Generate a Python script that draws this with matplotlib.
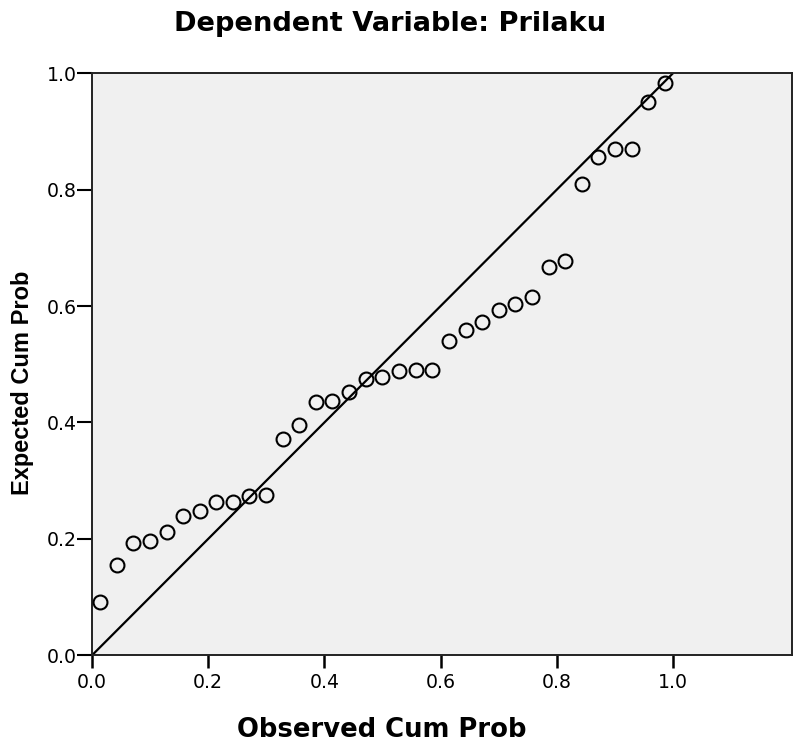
import matplotlib
matplotlib.use("Agg")
from matplotlib import pyplot as plt

plt.rcParams['font.family'] = ['DejaVu Sans']

# observed vs expected cumulative probability (P-P plot of residuals)
observed = [0.014, 0.043, 0.071, 0.100, 0.129, 0.157, 0.186, 0.214, 0.243,
            0.271, 0.300, 0.329, 0.357, 0.386, 0.414, 0.443, 0.471, 0.500,
            0.529, 0.557, 0.586, 0.614, 0.643, 0.671, 0.700, 0.729, 0.757,
            0.786, 0.814, 0.843, 0.871, 0.900, 0.929, 0.957, 0.986]
expected = [0.092, 0.156, 0.193, 0.196, 0.211, 0.240, 0.248, 0.263, 0.263,
            0.274, 0.275, 0.372, 0.396, 0.436, 0.437, 0.452, 0.475, 0.478,
            0.488, 0.490, 0.491, 0.540, 0.559, 0.573, 0.594, 0.603, 0.615,
            0.667, 0.677, 0.809, 0.856, 0.870, 0.870, 0.951, 0.983]
ticks = [0.0, 0.2, 0.4, 0.6, 0.8, 1.0]
title = "Dependent Variable: Prilaku"

fig = plt.figure(figsize=(7.95, 7.46), dpi=100)
ax = fig.add_axes([92 / 795, 1 - 655.3 / 746, 700 / 795, 582 / 746])
ax.set_facecolor("#f0f0f0")

ax.plot([0, 1], [0, 1], color="black", lw=1.6, zorder=2)
ax.plot(observed, expected, "o", ms=10, mfc="none", mec="black", mew=1.5, zorder=3)

ax.set_xlim(0, 1.205)
ax.set_ylim(0, 1.0)
ax.set_xticks(ticks)
ax.set_yticks(ticks)
ax.set_xticklabels(["%.1f" % t for t in ticks])
ax.set_yticklabels(["%.1f" % t for t in ticks])
ax.tick_params(axis="x", direction="out", length=9, width=1.8, labelsize=13.6, pad=4)
ax.tick_params(axis="y", direction="out", length=11, width=1.5, labelsize=13.6, pad=0)
for sp in ax.spines.values():
    sp.set_linewidth(1.4)
    sp.set_color("#222222")

fig.text(390 / 795, 1 - 24 / 746, title, ha="center", va="center",
         fontsize=19.6, fontweight="bold")
fig.text(382 / 795, 1 - 730 / 746, "Observed Cum Prob", ha="center", va="center",
         fontsize=18.6, fontweight="bold")
fig.text(23 / 795, 1 - 383 / 746, "Expected Cum Prob", ha="center", va="center",
         rotation=90, fontsize=17, fontweight="bold", family="Liberation Sans")

fig.savefig("out.png", dpi=100)
